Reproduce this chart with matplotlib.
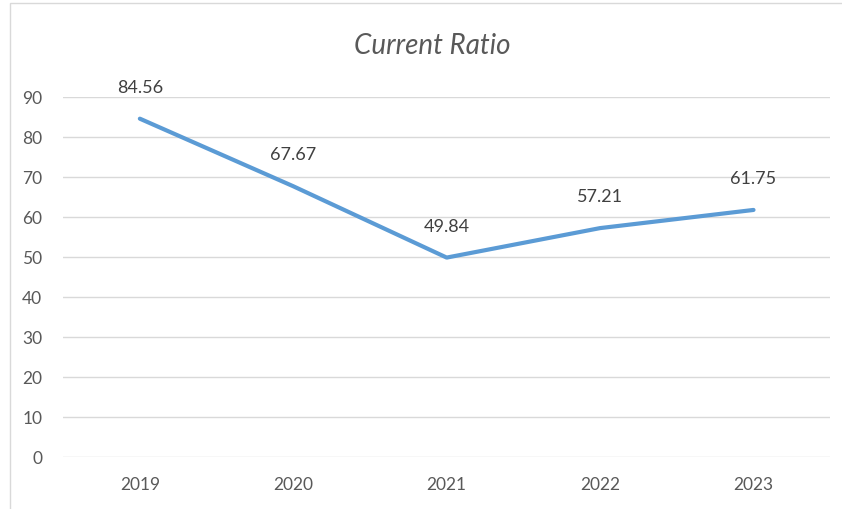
import matplotlib
matplotlib.use('Agg')
import matplotlib.pyplot as plt
from matplotlib.patches import Rectangle

years = ['2019', '2020', '2021', '2022', '2023']
current_ratio = [84.56, 67.67, 49.84, 57.21, 61.75]
y_ticks = list(range(0, 100, 10))

plt.rcParams['font.family'] = ['Lato', 'DejaVu Sans']
text_color = '#595959'

fig = plt.figure(figsize=(8.42, 5.10), dpi=100)
ax = fig.add_axes([0.075, 0.102, 0.911, 0.706])

x = list(range(len(years)))
ax.plot(x, current_ratio, color='#5B9BD5', linewidth=3, solid_capstyle='round',
        solid_joinstyle='round', zorder=3)

for xi, v in zip(x, current_ratio):
    ax.annotate('%.2f' % v, (xi, v), xytext=(0, 23), textcoords='offset points',
                ha='center', va='center', fontsize=13, color='#404040')

ax.set_xlim(-0.5, len(years) - 0.5)
ax.set_ylim(0, 90)
ax.set_yticks(y_ticks)
ax.set_xticks(x)
ax.set_xticklabels(years)
ax.grid(axis='y', color='#D9D9D9', linewidth=1)
ax.set_axisbelow(True)
for s in ax.spines.values():
    s.set_visible(False)
ax.tick_params(length=0, labelsize=12.5, labelcolor=text_color)
ax.tick_params(axis='y', pad=15)
ax.tick_params(axis='x', pad=14)

fig.text(0.513, 0.91, 'Current Ratio', ha='center', va='center',
         fontsize=20, style='italic', color=text_color)

# chart border
fig.patches.append(Rectangle((10 / 842, -0.02), 1.0, 0.006 + (510 - 7) / 510 + 0.02,
                             transform=fig.transFigure, fill=False,
                             edgecolor='#D9D9D9', linewidth=1))

fig.savefig('out.png', dpi=100)
